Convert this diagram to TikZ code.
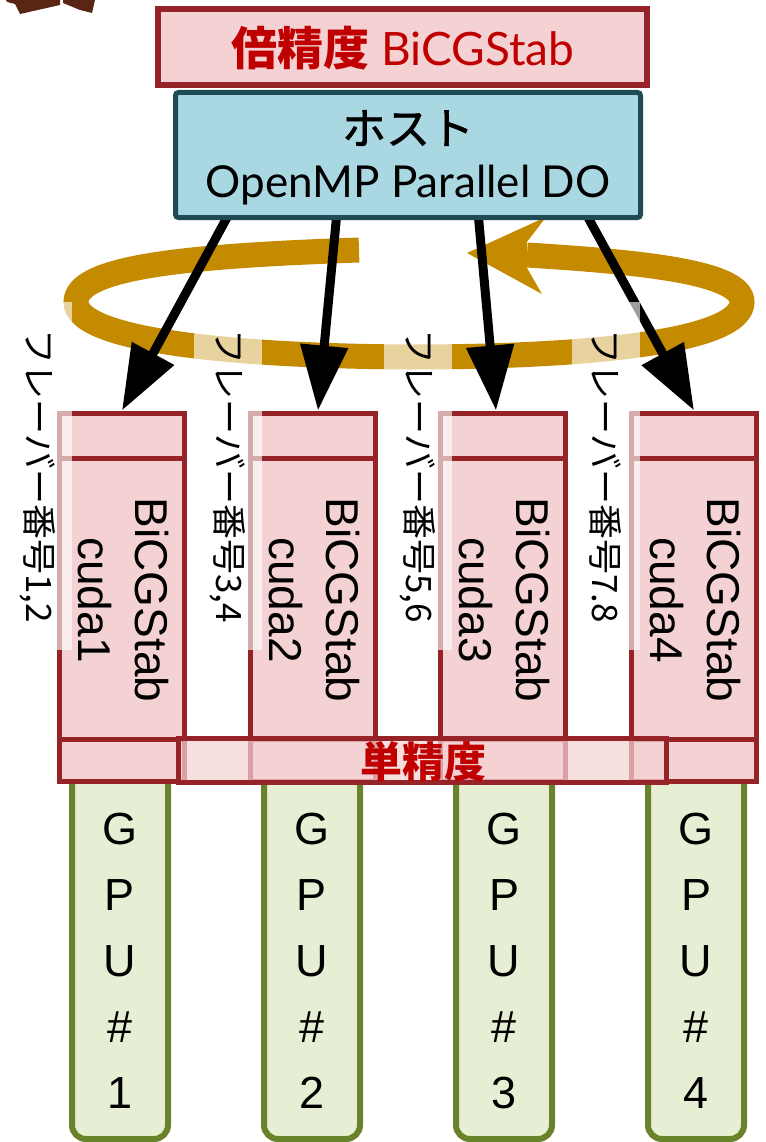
\documentclass[tikz,border=0pt]{standalone}
\usepackage{fontspec}
\setmainfont{Liberation Sans}
\newfontfamily\jpfont{Noto Sans CJK JP}
\newfontfamily\jpmedfont[FakeBold=1.3]{Noto Sans CJK JP}
\newfontfamily\gillfont{Lato}
\usetikzlibrary{arrows.meta,calc}
\definecolor{pinkfill}{HTML}{F4D2D3}
\definecolor{boxred}{HTML}{952327}
\definecolor{redtext}{HTML}{C00000}
\definecolor{hostfill}{HTML}{A9D7E2}
\definecolor{hostborder}{HTML}{1F4B57}
\definecolor{loopcol}{HTML}{C58B00}
\definecolor{gpufill}{HTML}{E6EFD4}
\definecolor{gpuborder}{HTML}{68832A}
\definecolor{titlebrown}{HTML}{5A2514}
\begin{document}
\begin{tikzpicture}[x=1pt,y=-1pt,
  cudabox/.style={draw=boxred, line width=5pt, fill=pinkfill, minimum width=125pt, minimum height=368pt, inner sep=0pt},
  divider/.style={draw=boxred, line width=5pt},
  cudatext/.style={rotate=-90, align=center, inner sep=0pt, font=\fontsize{46}{57}\selectfont},
  gpubox/.style={draw=gpuborder, line width=6pt, fill=gpufill, rounded corners=14pt},
  gputext/.style={align=center, inner sep=0pt, font=\fontsize{45}{66}\selectfont},
  bigarrow/.style={line width=9pt, -{Triangle[length=65pt,width=46pt]}},
  flavor/.style={rotate=-90, fill=white, fill opacity=0.62, text opacity=1, minimum width=348pt, minimum height=68pt, inner sep=0pt, font=\jpfont\fontsize{35}{40}\selectfont},
  looppath/.style={draw=loopcol, line width=25pt}
]
\useasboundingbox (0,0) rectangle (765,1142);
% title fragments
\fill[titlebrown] (6,0) -- (60,0) -- (60,5) -- (20,14) -- (15,4) -- (7,2) -- cycle;
\fill[titlebrown] (63,0) -- (95,0) -- (92,13) -- (80,10) -- (63,3) -- cycle;
% double precision box
\node[draw=boxred, fill=pinkfill, line width=6pt, minimum width=489pt, minimum height=76pt, inner sep=0pt] (dp) at (402.5,47) {};
\node[text=redtext, inner sep=0pt] (dptext) at (403,48) {{\jpfont\bfseries\fontsize{46}{46}\selectfont 倍精度}{\gillfont\fontsize{46}{46}\selectfont\ BiCGStab}};
% loop
\path[looppath] (359,250) .. controls (180,256) and (76,268) .. (76,302)
  .. controls (76,340) and (230,356) .. (409,357)
  .. controls (600,357) and (742,340) .. (742,302)
  .. controls (742,272) and (640,262) .. (527,255);
\fill[loopcol] (467,253) -- (546,217) -- (527,242) -- (527,268) -- (542,294) -- cycle;
% GPU boxes
\foreach \i/\c in {1/120,2/312,3/504,4/696}{
  \draw[gpubox] (\c-48,770) rectangle (\c+48,1139);
  \node[gputext] (gpu\i) at (\c,961) {G\\P\\U\\\#\\\i};
}
% cuda boxes
\foreach \i/\c in {1/122,2/313,3/503,4/694}{
  \node[cudabox] (cuda\i) at (\c,597) {};
  \draw[divider] ($(cuda\i.north west)+(0,48)$) -- ($(cuda\i.north east)+(0,48)$);
  \draw[divider] ($(cuda\i.south west)+(0,-44)$) -- ($(cuda\i.south east)+(0,-44)$);
  \node[cudatext] (cudat\i) at (\c+1.5,600) {BiCGStab\\cuda\i};
}
% arrows
\coordinate (s1) at (230,212);
\coordinate (s2) at (337,212);
\coordinate (s3) at (478,212);
\coordinate (s4) at (585,212);
\draw[bigarrow] (s1) -- (cuda1.north);
\draw[bigarrow] (s2) -- ($(cuda2.north)+(5,0)$);
\draw[bigarrow] (s3) -- ($(cuda3.north)+(-7,0)$);
\draw[bigarrow] (s4) -- (cuda4.north);
% host box
\node[draw=hostborder, fill=hostfill, line width=5pt, rounded corners=3pt, minimum width=465pt, minimum height=125pt, inner sep=0pt] (host) at (408,155) {};
\node[inner sep=0pt] (hostjp) at (408,128) {\jpmedfont\fontsize{44}{44}\selectfont ホスト};
\node[inner sep=0pt] (hostomp) at (408,185) {\gillfont\fontsize{44}{44}\selectfont OpenMP Parallel DO};
% single precision band
\node[draw=boxred, fill=pinkfill, fill opacity=0.72, draw opacity=1, text opacity=1, line width=5pt, minimum width=488pt, minimum height=44pt, inner sep=0pt] (band) at (422,760) {};
\node[text=redtext, inner sep=0pt] (bandtext) at (423,761) {\jpfont\bfseries\fontsize{42}{42}\selectfont 単精度};
% flavor labels
\node[flavor] (f1) at (38,476) {フレーバー番号1,2};
\node[flavor] (f2) at (228,476) {フレーバー番号3,4};
\node[flavor] (f3) at (418,476) {フレーバー番号5,6};
\node[flavor] (f4) at (606,476) {フレーバー番号7.8};
\end{tikzpicture}
\end{document}
